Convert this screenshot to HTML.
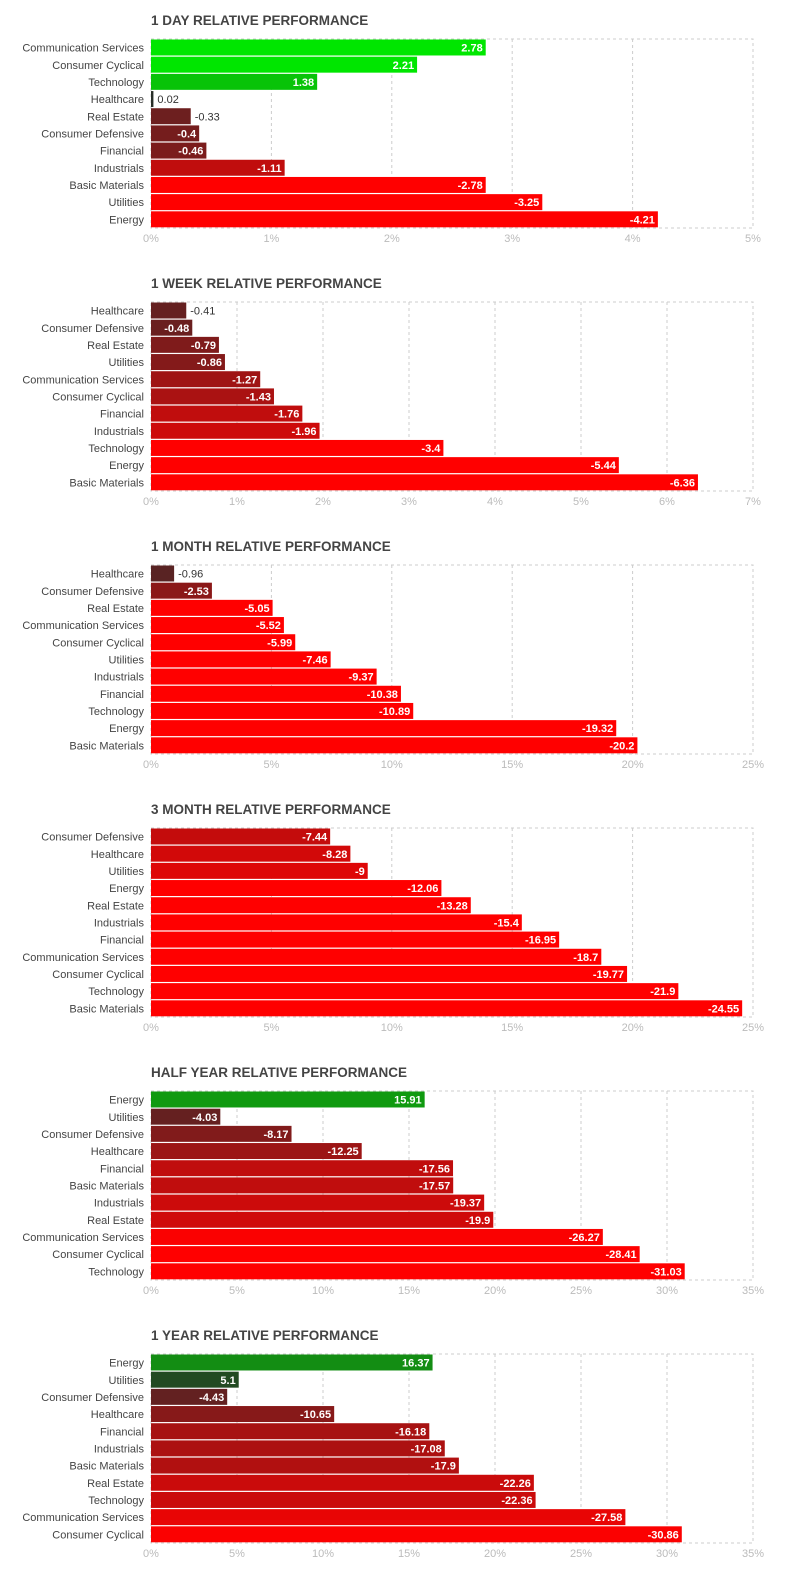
<!DOCTYPE html>
<html><head><meta charset="utf-8">
<style>
html,body{margin:0;padding:0;background:#fff;}
body{width:788px;height:1585px;overflow:hidden;font-family:"Liberation Sans",sans-serif;}
svg text{font-family:"Liberation Sans",sans-serif;}
</style></head>
<body>
<svg id="root" width="788" height="1585" xmlns="http://www.w3.org/2000/svg"></svg>
<script>
const titles=["1 DAY RELATIVE PERFORMANCE","1 WEEK RELATIVE PERFORMANCE","1 MONTH RELATIVE PERFORMANCE","3 MONTH RELATIVE PERFORMANCE","HALF YEAR RELATIVE PERFORMANCE","1 YEAR RELATIVE PERFORMANCE"];
const cats1=["Communication Services","Consumer Cyclical","Technology","Healthcare","Real Estate","Consumer Defensive","Financial","Industrials","Basic Materials","Utilities","Energy"];
const vals1=[2.78,2.21,1.38,0.02,-0.33,-0.4,-0.46,-1.11,-2.78,-3.25,-4.21];
const cats2=["Healthcare","Consumer Defensive","Real Estate","Utilities","Communication Services","Consumer Cyclical","Financial","Industrials","Technology","Energy","Basic Materials"];
const vals2=[-0.41,-0.48,-0.79,-0.86,-1.27,-1.43,-1.76,-1.96,-3.4,-5.44,-6.36];
const cats3=["Healthcare","Consumer Defensive","Real Estate","Communication Services","Consumer Cyclical","Utilities","Industrials","Financial","Technology","Energy","Basic Materials"];
const vals3=[-0.96,-2.53,-5.05,-5.52,-5.99,-7.46,-9.37,-10.38,-10.89,-19.32,-20.2];
const cats4=["Consumer Defensive","Healthcare","Utilities","Energy","Real Estate","Industrials","Financial","Communication Services","Consumer Cyclical","Technology","Basic Materials"];
const vals4=[-7.44,-8.28,-9,-12.06,-13.28,-15.4,-16.95,-18.7,-19.77,-21.9,-24.55];
const cats5=["Energy","Utilities","Consumer Defensive","Healthcare","Financial","Basic Materials","Industrials","Real Estate","Communication Services","Consumer Cyclical","Technology"];
const vals5=[15.91,-4.03,-8.17,-12.25,-17.56,-17.57,-19.37,-19.9,-26.27,-28.41,-31.03];
const cats6=["Energy","Utilities","Consumer Defensive","Healthcare","Financial","Industrials","Basic Materials","Real Estate","Technology","Communication Services","Consumer Cyclical"];
const vals6=[16.37,5.1,-4.43,-10.65,-16.18,-17.08,-17.9,-22.26,-22.36,-27.58,-30.86];
const axisMax=[5,7,25,25,35,35];
const tickStep=[1,1,5,5,5,5];
const colorScale=[1.7,2.7,5,11,27,31.5];
const colorExp=[1,1,1.5,1,1,1];

const NS="http://www.w3.org/2000/svg";
const root=document.getElementById('root');
function mk(tag,attrs,parent){const e=document.createElementNS(NS,tag);for(const k in attrs)e.setAttribute(k,attrs[k]);parent.appendChild(e);return e;}
function mix(a,b,t,p){t=Math.max(0,Math.min(1,t));t=Math.pow(t,p);return 'rgb('+a.map((v,i)=>Math.round(v+(b[i]-v)*t)).join(',')+')';}
const allCats=[cats1,cats2,cats3,cats4,cats5,cats6];
const allVals=[vals1,vals2,vals3,vals4,vals5,vals6];
const X0=151,W=602,PH=189,ROWS=11;
for(let c=0;c<6;c++){
  const oy=263*c, top=39+oy;
  const g=mk('g',{},root);
  
  
  const xs=v=>X0+Math.abs(v)/axisMax[c]*W;
  const t=mk('text',{x:X0,y:25+oy,'font-size':13.5,'font-weight':'bold',fill:'#444'},g);
  t.textContent=titles[c];
  
  
  const bd=mk('rect',{x:X0,y:top,width:W,height:PH,fill:'none',stroke:'#ccc','stroke-dasharray':'3,3'},g);
  
  
  for(let v=0;v<=axisMax[c];v+=tickStep[c]){
    const x=xs(v);
    if(v>0&&v<axisMax[c]){const l=mk('line',{x1:x,x2:x,y1:top,y2:top+PH,stroke:'#ccc','stroke-dasharray':'3,3'},g);
      
      }
    const tl=mk('text',{x:x,y:242+oy,'font-size':11,fill:'#bbb','text-anchor':'middle'},g);
    tl.textContent=v+'%';
    
    
  }
  const rh=PH/ROWS;
  allVals[c].forEach((v,i)=>{
    const y=top+i*rh+0.5, w=Math.max(1.5,xs(v)-X0);
    const col=v>=0?mix([40,44,40],[0,230,0],v/colorScale[c],1):mix([74,38,38],[255,0,0],-v/colorScale[c],colorExp[c]);
    const r=mk('rect',{x:X0,y:y,width:w,height:rh-1.2,fill:col},g);
    
    
    const cl=mk('text',{x:144,y:y+rh/2+3.5,'font-size':11,fill:'#444','text-anchor':'end'},g);
    cl.textContent=allCats[c][i];
    
    
    const s=String(v);
    const tw=s.length*6.8;
    const inside=w>tw+6;
    const vl=mk('text',{x:inside?X0+w-3:X0+w+4,y:y+rh/2+3.5,'font-size':11,'font-weight':inside?'bold':'normal',fill:inside?'#fff':'#333','text-anchor':inside?'end':'start'},g);
    vl.textContent=s;
    
    
  });
}
</script>
</body></html>
